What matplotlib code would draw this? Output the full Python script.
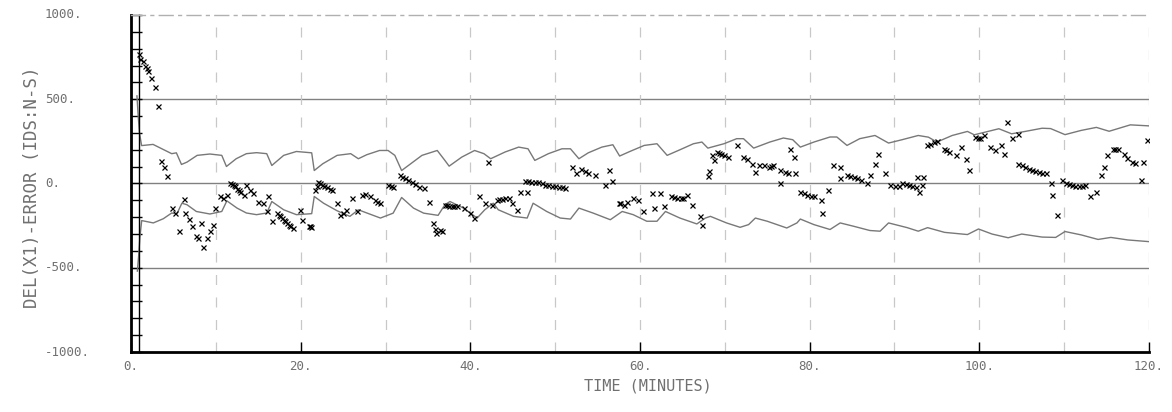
import matplotlib
matplotlib.use("Agg")
import matplotlib.pyplot as plt
import matplotlib.transforms as mtransforms
import numpy as np

# ---------------- data ----------------
upper_t = [0.7, 0.85, 1.0, 1.25, 2.6, 3.8, 4.8, 5.35, 5.95, 6.6, 7.8, 9.3, 10.7, 11.25, 12.4, 13.6,
           14.8, 16.0, 16.6, 18.0, 19.5, 21.3, 21.6, 22.6, 24.3, 25.9, 26.8, 27.8, 29.3, 30.3, 31.1,
           31.9, 32.7, 34.3, 36.1, 37.0, 37.5, 39.0, 40.5, 41.6, 42.4, 44.1, 45.7, 46.8, 47.6, 49.2,
           50.8, 51.8, 52.8, 53.9, 55.5, 56.8, 57.6, 58.8, 60.5, 62.0, 63.2, 64.7, 66.3, 67.3, 68.0,
           69.9, 71.4, 72.2, 73.4, 75.3, 76.9, 78.0, 78.9, 80.5, 82.4, 83.2, 84.4, 85.9, 87.7, 89.3,
           90.9, 92.8, 94.0, 95.0, 96.8, 98.6, 99.4, 100.7, 102.3, 103.8, 105.4, 107.4, 108.4, 110.1,
           112.0, 113.8, 115.3, 117.8, 120.0]
upper_v = [520, 400, 300, 225, 232, 202, 177, 182, 113, 127, 167, 175, 167, 101, 147, 177,
           183, 177, 107, 167, 190, 182, 77, 117, 167, 177, 147, 171, 196, 196, 167,
           77, 107, 167, 196, 137, 103, 157, 196, 177, 147, 187, 216, 206, 137, 177,
           206, 206, 147, 182, 216, 230, 163, 190, 226, 236, 167, 200, 236, 246, 210,
           236, 266, 266, 210, 246, 270, 260, 216, 246, 276, 276, 226, 266, 285, 240,
           260, 285, 275, 246, 285, 309, 289, 305, 325, 295, 309, 328, 326, 290,
           315, 333, 310, 348, 342]

lower_t = [0.75, 0.9, 1.05, 1.26, 2.63, 3.81, 4.8, 5.4, 6.0, 6.6, 7.7, 9.3, 10.7, 11.3, 12.5, 13.6,
           14.8, 16.0, 16.6, 18.0, 19.5, 21.3, 21.6, 22.7, 24.3, 25.8, 26.8, 27.8, 29.4, 30.9, 31.9,
           33.3, 34.5, 36.2, 37.0, 37.6, 39.2, 40.8, 41.7, 42.7, 43.3, 45.1, 46.7, 47.4, 49.0, 50.6,
           51.8, 52.8, 54.5, 56.5, 57.9, 59.2, 60.8, 62.0, 63.0, 64.7, 66.7, 67.7, 68.3, 70.2, 71.8,
           72.8, 73.6, 75.0, 77.3, 78.5, 78.9, 80.5, 82.4, 83.6, 85.2, 87.1, 88.3, 89.3, 91.5, 92.8,
           93.9, 95.9, 98.6, 99.9, 101.5, 103.4, 105.0, 107.4, 109.0, 110.1, 112.0, 114.0, 115.5,
           117.5, 120.0]
lower_v = [-520, -430, -320, -220, -234, -209, -175, -181, -117, -126, -166, -181, -166, -103, -146, -175,
           -185, -175, -107, -156, -185, -179, -77, -117, -162, -195, -156, -175, -205, -176, -83,
           -146, -176, -189, -126, -107, -146, -205, -156, -117, -156, -195, -205, -117, -166, -205,
           -211, -146, -176, -215, -166, -185, -224, -224, -166, -205, -240, -205, -195, -234, -260,
           -244, -205, -224, -264, -234, -211, -244, -273, -234, -254, -279, -283, -234, -262, -283,
           -262, -290, -303, -270, -300, -322, -300, -318, -320, -285, -305, -332, -320,
           -335, -345]

mark_t = [0.9, 1.1, 1.4, 1.6, 1.85, 2.0, 2.4, 2.8, 3.2,
          3.5, 3.9, 4.3, 4.8, 5.2, 6.2, 6.4, 5.6, 6.8, 7.2, 7.7, 7.9, 8.3, 8.5, 8.9, 9.3, 9.7, 9.9,
          10.5, 10.9, 11.3, 11.7, 11.9, 12.1, 12.3, 12.5, 12.7, 12.9, 13.3, 13.6, 14.0, 14.4, 15.0,
          15.6, 16.2, 16.0, 16.6, 17.2, 17.4, 17.6, 17.8, 18.0, 18.2, 18.4, 18.6, 18.8, 19.1, 19.9,
          20.1, 21.0, 21.1, 21.2, 21.7, 21.9, 22.1, 22.3, 22.5, 22.8, 23.1, 23.4, 23.7, 24.3, 24.6,
          25.0, 25.4, 26.0, 26.6, 27.2, 27.6, 28.2, 29.0,
          28.8, 29.4, 30.3, 30.6, 30.9, 31.7, 32.0, 32.3, 32.7, 33.1, 33.5, 33.9, 34.5, 35.1, 35.6,
          35.8, 36.0, 36.4, 36.7, 37.0, 37.2, 37.5, 37.8, 38.1, 38.4, 39.2, 40.0, 40.4, 41.0, 41.7,
          42.1, 42.5, 43.1, 43.4, 43.7, 44.1, 44.5, 44.9, 45.5, 45.9, 46.7, 46.5, 46.8, 47.2, 47.6,
          48.0, 48.4, 48.8, 49.2, 49.6, 50.0, 50.4, 50.8, 51.2, 52.0, 52.4, 53.1, 53.5, 53.9, 54.7,
          56.3, 55.9, 56.7, 57.5, 58.1,
          57.7, 58.5, 59.2, 59.8, 60.4, 61.4, 61.6, 62.4, 62.8, 63.6, 64.0, 64.4, 64.8, 65.1, 65.5,
          66.1, 67.1, 67.3, 68.0, 68.1, 68.5, 68.7, 69.1, 69.3, 69.5, 69.9, 70.4, 71.4, 72.2, 72.6,
          73.2, 73.6, 74.0, 74.6, 75.2, 75.5, 75.7, 76.5, 77.1, 77.5, 77.7, 78.1, 78.3, 76.5, 78.9,
          79.3, 79.7, 80.1, 80.5, 81.3, 81.5, 82.2, 82.8, 83.6, 84.4, 84.8, 85.2, 85.6, 86.0, 86.8,
          83.6, 87.1, 87.7, 88.1, 88.9, 89.5, 90.1, 90.5, 90.9, 91.3, 91.7, 92.1, 92.5, 92.9, 92.7,
          93.4, 93.2, 93.8, 94.2, 94.6, 95.0, 95.8, 96.1, 96.4, 97.2, 97.8, 98.4, 98.8, 99.5, 99.8,
          100.1, 100.5, 101.3, 101.9, 102.5, 102.9, 103.3, 103.9, 104.5, 104.6, 105.0, 105.4, 105.8,
          106.2, 106.6, 107.0, 107.4, 107.8, 108.4, 108.6, 109.2, 109.8, 110.2, 110.6, 110.9, 111.3,
          111.7, 112.1, 112.5, 113.1, 113.7, 114.3, 114.7, 115.1, 115.7, 116.0, 116.4, 117.0, 117.4,
          118.0, 118.4, 119.0, 119.3, 119.8]
mark_v = [766, 740, 726, 700, 687, 670, 628, 575, 462,
          134, 99, 46, -146, -175, -91, -175, -279, -209, -254, -313, -322, -234, -377, -322, -283, -244, -146,
          -77, -87, -68, 0, -3, -6, -15, -30, -40, -50, -68, -10, -40, -57, -107,
          -117, -77, -166, -224, -175, -185, -195, -205, -215, -224, -234, -244, -254, -264, -156,
          -215, -250, -254, -258, -40, -15, 6, 0, -6, -12, -20, -30, -40, -117, -185,
          -175, -156, -87, -166, -68, -64, -77, -107,
          -97, -117, -8, -12, -18, 50, 40, 30, 20, 10, -5, -18, -28, -107, -234,
          -270, -293, -273, -280, -126, -128, -132, -136, -134, -136, -146, -175, -205, -77, -117,
          128, -126, -97, -94, -91, -89, -87, -117, -156, -48, -48, 14, 12, 6, 8,
          6, 2, -6, -8, -14, -16, -20, -22, -24, 99, 60, 89, 75, 60, 50,
          79, -8, 14, -117, -126,
          -117, -107, -87, -97, -166, -57, -146, -57, -136, -77, -82, -87, -87, -87, -68,
          -126, -195, -244, 46, 76, 168, 138, 187, 182, 177, 168, 158, 226, 158, 148,
          118, 69, 108, 108, 99, 104, 108, 79, 69, 60, 207, 158, 60, 0, -48,
          -58, -68, -72, -77, -97, -175, -38, 108, 99, 50, 45, 40, 30, 20, 0,
          30, 50, 118, 177, 60, -10, -14, -12, 0, -5, -10, -15, -20, -48, 40,
          40, -10, 226, 236, 246, 250, 207, 197, 187, 168, 217, 148, 79, 275, 272,
          270, 285, 217, 197, 226, 177, 364, 270, 295, 118, 108, 99, 89,
          79, 74, 69, 65, 60, 0, -68, -185, 20, 0, -5, -10, -12,
          -14, -12, -10, -77, -48, 50, 99, 168, 207, 205, 203, 177, 150,
          128, 120, 20, 130, 256]

yticks = [1000, 500, 0, -500, -1000]
ytick_labels = ["1000.", "500.", "0.", "-500.", "-1000."]
xticks = [0, 20, 40, 60, 80, 100, 120]
xtick_labels = ["0.", "20.", "40.", "60.", "80.", "100.", "120."]
ylabel = "DEL(X1)-ERROR (IDS:N-S)"
xlabel = "TIME (MINUTES)"

# ---------------- figure ----------------
W, H = 1172, 412
fig = plt.figure(figsize=(W / 100, H / 100), dpi=100)
ax = fig.add_axes([131 / W, 1 - 352 / H, (1149 - 131) / W, (352 - 15) / H])
ax.set_xlim(0, 120)
ax.set_ylim(-1000, 1000)

mono = "DejaVu Sans Mono"
tcol = "#707070"

# grid
for v in [-500, 0, 500]:
    ax.axhline(v, color="#808080", lw=1.0, zorder=1)
for t in range(10, 121, 10):
    ax.axvline(t, color="#c8c8c8", lw=0.9, ls=(0, (8, 10)), zorder=1)

# bound curves
ax.plot(upper_t, upper_v, color="#787878", lw=1.0, zorder=2)
ax.plot(lower_t, lower_v, color="#787878", lw=1.0, zorder=2)

# estimates
ax.plot(mark_t, mark_v, ls="none", marker="x", color="black", ms=3.6, mew=0.9, zorder=3)

# spines
ax.spines["top"].set_color("#b0b0b0")
ax.spines["top"].set_linestyle((0, (10, 4, 2, 4)))
ax.spines["top"].set_linewidth(1.0)
ax.spines["right"].set_visible(False)
ax.spines["left"].set_linewidth(2.0)
ax.spines["bottom"].set_linewidth(2.0)

# left ruler: inner line and ticks every 100
trans = mtransforms.blended_transform_factory(ax.transAxes, ax.transData)
inner = 8 / (1149 - 131)
ax.plot([inner, inner], [-1000, 1000], transform=trans, color="black", lw=1.0, clip_on=False)
ax.set_yticks(yticks)
ax.set_yticks(np.arange(-1000, 1001, 100), minor=True)
ax.tick_params(axis="y", which="both", direction="in", length=8, width=1.0, labelleft=False)
ax.set_xticks(xticks)
ax.tick_params(axis="x", which="major", direction="in", length=7, width=1.0, labelbottom=False)

# tick labels as text
for v, lab in zip(yticks, ytick_labels):
    ax.text(-86 / (1149 - 131), v, lab, transform=trans, ha="left", va="center",
            fontsize=9, family=mono, color=tcol)
transx = mtransforms.blended_transform_factory(ax.transData, ax.transAxes)
for t, lab in zip(xticks, xtick_labels):
    ax.text(t, -15 / 337, lab, transform=transx, ha="center", va="center",
            fontsize=9, family=mono, color=tcol)

fig.text(32 / W, 1 - 187 / H, ylabel, rotation=90, ha="center", va="center",
         fontsize=12.5, family=mono, color=tcol)
fig.text(648 / W, 1 - 386 / H, xlabel, ha="center", va="center",
         fontsize=11, family=mono, color=tcol)

fig.savefig("out.png", dpi=100, facecolor="white")
